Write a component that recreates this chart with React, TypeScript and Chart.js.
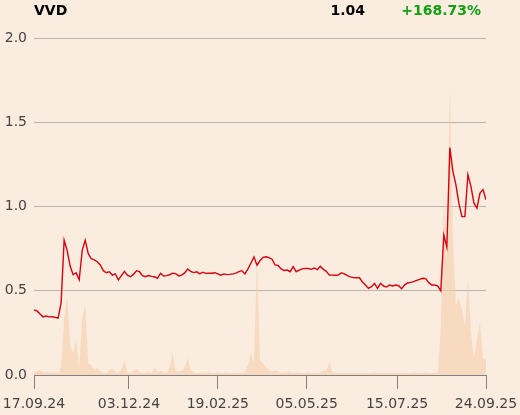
import React, { useEffect, useRef } from "react";
import { Chart, registerables } from "chart.js";

Chart.register(...registerables);

const TICKER = "VVD";
const LAST_PRICE = "1.04";
const CHANGE = "+168.73%";

const X_TICK_LABELS = ["17.09.24", "03.12.24", "19.02.25", "05.05.25", "15.07.25", "24.09.25"];
const X_TICK_INDEX = [0, 31.5, 61, 90.5, 120.5, 150];
const Y_MIN = 0;
const Y_MAX = 2;
const Y_STEP = 0.5;

const PRICE = [
  0.386, 0.38, 0.362, 0.345, 0.35, 0.345, 0.346, 0.342, 0.338, 0.43,
  0.8, 0.74, 0.645, 0.595, 0.607, 0.565, 0.74, 0.8, 0.72, 0.69,
  0.683, 0.672, 0.653, 0.619, 0.607, 0.613, 0.593, 0.6, 0.564, 0.59,
  0.615, 0.593, 0.583, 0.597, 0.619, 0.613, 0.59, 0.583, 0.59, 0.585,
  0.583, 0.574, 0.604, 0.588, 0.59, 0.595, 0.604, 0.602, 0.588, 0.593,
  0.606, 0.629, 0.615, 0.608, 0.613, 0.6, 0.61, 0.603, 0.604, 0.604,
  0.607, 0.6, 0.592, 0.6, 0.596, 0.597, 0.6, 0.605, 0.613, 0.619,
  0.6, 0.63, 0.665, 0.7, 0.652, 0.678, 0.698, 0.702, 0.697, 0.687,
  0.653, 0.65, 0.63, 0.62, 0.623, 0.613, 0.643, 0.613, 0.623, 0.63,
  0.633, 0.632, 0.627, 0.635, 0.625, 0.645, 0.627, 0.615, 0.593, 0.593,
  0.592, 0.593, 0.607, 0.6, 0.59, 0.582, 0.578, 0.577, 0.577, 0.552,
  0.534, 0.514, 0.524, 0.544, 0.514, 0.544, 0.528, 0.522, 0.534, 0.528,
  0.534, 0.53, 0.512, 0.535, 0.546, 0.55, 0.554, 0.562, 0.568, 0.574,
  0.572, 0.548, 0.534, 0.534, 0.528, 0.5, 0.83, 0.76, 1.35, 1.21,
  1.13, 1.02, 0.94, 0.94, 1.19, 1.12, 1.02, 0.99, 1.08, 1.1,
  1.04,
];

const VOLUME = [
  20, 40, 50, 30, 30, 30, 20, 30, 20, 80,
  550, 800, 300, 220, 350, 60, 580, 700, 120, 100,
  40, 80, 30, 30, 20, 50, 60, 30, 20, 60,
  150, 30, 20, 40, 60, 30, 20, 20, 30, 20,
  70, 30, 40, 30, 20, 80, 220, 40, 30, 40,
  80, 170, 40, 30, 20, 20, 30, 20, 30, 20,
  20, 30, 20, 20, 30, 20, 20, 20, 20, 20,
  30, 100, 220, 120, 1200, 140, 120, 70, 50, 30,
  50, 30, 20, 20, 30, 30, 20, 30, 20, 20,
  20, 30, 20, 20, 20, 20, 50, 40, 130, 30,
  20, 20, 20, 20, 20, 20, 20, 20, 20, 20,
  20, 20, 20, 30, 20, 20, 20, 20, 20, 20,
  20, 20, 20, 20, 20, 20, 30, 20, 20, 20,
  30, 20, 20, 20, 20, 480, 1780, 1150, 2900, 1400,
  700, 770, 660, 480, 980, 420, 180, 350, 530, 170,
  150,
];
const VOLUME_AXIS_MAX = 3370;

const BG = "#fbece0";
const FONT = '"DejaVu Sans", sans-serif';

export default function App() {
  const ref = useRef<HTMLCanvasElement | null>(null);

  useEffect(() => {
    document.body.style.margin = "0";
    document.body.style.background = BG;
    const canvas = ref.current;
    if (!canvas) return;

    const header = {
      id: "header",
      afterDraw(chart: any) {
        const ctx = chart.ctx;
        ctx.save();
        ctx.font = `bold 14px ${FONT}`;
        ctx.textBaseline = "alphabetic";
        ctx.fillStyle = "#000000";
        ctx.textAlign = "left";
        ctx.fillText(TICKER, 34, 15);
        ctx.textAlign = "right";
        ctx.fillText(LAST_PRICE, 365, 15);
        ctx.fillStyle = "#10a010";
        ctx.textAlign = "right";
        ctx.fillText(CHANGE, 481, 15);
        ctx.restore();
      },
    };

    const chart = new Chart(canvas, {
      type: "line",
      data: {
        labels: PRICE.map((_, i) => i),
        datasets: [
          {
            label: "Price",
            data: PRICE.map((v, i) => ({ x: i, y: v })),
            borderColor: "#d7000f",
            borderWidth: 1.4,
            pointRadius: 0,
            fill: false,
            yAxisID: "y",
            tension: 0,
          },
          {
            label: "Volume",
            data: VOLUME.map((v, i) => ({ x: i, y: v })),
            borderWidth: 0,
            borderColor: "rgba(0,0,0,0)",
            backgroundColor: "rgba(246, 206, 172, 0.6)",
            pointRadius: 0,
            fill: "origin",
            yAxisID: "y2",
            tension: 0,
          },
        ],
      },
      options: {
        animation: false,
        responsive: false,
        maintainAspectRatio: false,
        events: [],
        layout: { padding: { top: 38, right: 34, left: 0, bottom: 0 } },
        plugins: {
          legend: { display: false },
          tooltip: { enabled: false },
        },
        scales: {
          x: {
            type: "linear",
            min: 0,
            max: PRICE.length - 1,
            afterBuildTicks: (scale: any) => {
              scale.ticks = X_TICK_INDEX.map((v) => ({ value: v }));
            },
            afterFit: (scale: any) => {
              scale.height = 40;
              scale.paddingLeft = 0;
              scale.paddingRight = 0;
            },
            border: { display: true, color: "#808080", width: 1 },
            grid: {
              drawOnChartArea: false,
              drawTicks: true,
              tickLength: 14,
              color: "#808080",
              lineWidth: 1,
            },
            ticks: {
              autoSkip: false,
              maxRotation: 0,
              padding: 7,
              color: "#444444",
              font: { family: FONT, size: 14 },
              callback: (value: any) => {
                const k = X_TICK_INDEX.indexOf(Number(value));
                return k >= 0 ? X_TICK_LABELS[k] : "";
              },
            },
          },
          y: {
            position: "left",
            min: Y_MIN,
            max: Y_MAX,
            afterFit: (scale: any) => {
              scale.width = 34;
              scale.paddingTop = 0;
              scale.paddingBottom = 0;
            },
            border: { display: false },
            grid: {
              drawTicks: false,
              color: "#b9b4ae",
              lineWidth: 1,
            },
            ticks: {
              stepSize: Y_STEP,
              padding: 7,
              color: "#444444",
              font: { family: FONT, size: 14 },
              callback: (value: any) => Number(value).toFixed(1),
            },
          },
          y2: {
            display: false,
            min: 0,
            max: VOLUME_AXIS_MAX,
          },
        },
      },
      plugins: [header],
    } as any);

    return () => chart.destroy();
  }, []);

  return (
    <div style={{ width: 520, height: 415, background: BG }}>
      <canvas ref={ref} width={520} height={415} style={{ display: "block", width: 520, height: 415 }} />
    </div>
  );
}
